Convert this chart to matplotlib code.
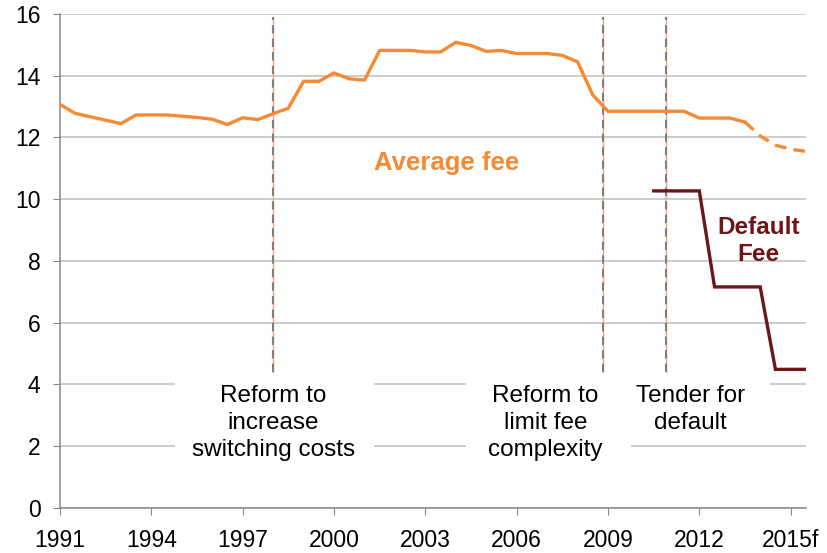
import numpy as np
import matplotlib.pyplot as plt
from matplotlib.patches import Rectangle

plt.rcParams['font.family'] = ['Liberation Sans', 'DejaVu Sans']

# average fee, half-yearly readings
avg_years = [1991.0, 1991.5, 1993.0, 1993.5, 1994.0, 1994.5, 1995.0, 1995.5, 1996.0,
             1996.5, 1997.0, 1997.5, 1998.0, 1998.5, 1999.0, 1999.5, 2000.0, 2000.5,
             2001.0, 2001.5, 2002.0, 2002.5, 2003.0, 2003.5, 2004.0, 2004.5, 2005.0,
             2005.5, 2006.0, 2006.5, 2007.0, 2007.5, 2008.0, 2008.5, 2009.0, 2009.5,
             2010.0, 2010.5, 2011.0, 2011.5, 2012.0, 2012.5, 2013.0, 2013.5]
avg_fee = [13.07, 12.78, 12.45, 12.73, 12.73, 12.73, 12.69, 12.65, 12.59,
           12.42, 12.64, 12.58, 12.77, 12.95, 13.82, 13.82, 14.09, 13.90,
           13.86, 14.82, 14.82, 14.82, 14.77, 14.77, 15.08, 14.98, 14.79,
           14.82, 14.72, 14.72, 14.72, 14.66, 14.45, 13.38, 12.85, 12.85,
           12.85, 12.85, 12.85, 12.85, 12.63, 12.63, 12.63, 12.50]
fc_years = [2013.5, 2014.0, 2014.5, 2015.0, 2015.5]
fc_fee = [12.50, 12.05, 11.75, 11.62, 11.55]

def_years = [2010.5, 2012.0, 2012.5, 2014.0, 2014.5, 2015.5]
def_fee = [10.27, 10.27, 7.16, 7.16, 4.49, 4.49]

events = [1998.0, 2008.83, 2010.9]
event_labels = ['Reform to\nincrease\nswitching costs',
                'Reform to\nlimit fee\ncomplexity',
                'Tender for\ndefault']

xticks = [1991, 1994, 1997, 2000, 2003, 2006, 2009, 2012, 2015]
xlabels = ['1991', '1994', '1997', '2000', '2003', '2006', '2009', '2012', '2015f']

orange = '#F58A32'
maroon = '#6E1518'
grey = '#878787'

fig = plt.figure(figsize=(8.28, 5.53), dpi=100)
ax = fig.add_axes([0.0725, 0.0814, 0.9015, 0.8933])

ax.set_xlim(1991, 2015.52)
ax.set_ylim(0, 16)
ax.set_yticks(np.arange(0, 17, 2))
ax.set_xticks(xticks)
ax.set_xticklabels(xlabels)
ax.yaxis.grid(True, color='#BFBFBF', lw=1.1)
ax.set_axisbelow(True)
for s in ['top', 'right']:
    ax.spines[s].set_visible(False)
for s in ['left', 'bottom']:
    ax.spines[s].set_color(grey)
    ax.spines[s].set_linewidth(1.1)
ax.tick_params(axis='both', colors=grey, labelcolor='black', labelsize=16.5, length=5)
ax.tick_params(axis='y', pad=9)
ax.tick_params(axis='x', pad=10)

# event markers
for x in events:
    ax.plot([x, x], [4.4, 15.9], color='#F4A07A', lw=1.0, zorder=2)
    ax.plot([x, x], [4.4, 15.9], color='#7F7F7F', lw=1.5, ls=(0, (4, 2.5)), zorder=2)

# white label boxes hiding the gridlines
boxes = [(1994.77, 2001.33, 1.1), (2004.35, 2009.76, 1.1), (2009.76, 2014.32, 2.25)]
for x0, x1, y0 in boxes:
    ax.add_patch(Rectangle((x0, y0), x1 - x0, 4.37 - y0, facecolor='white',
                           edgecolor='none', zorder=1.5))
ax.text(1998.0, 2.75, event_labels[0], ha='center', va='center', fontsize=17.5,
        linespacing=1.3, zorder=3)
ax.text(2006.95, 2.75, event_labels[1], ha='center', va='center', fontsize=17.5,
        linespacing=1.3, zorder=3)
ax.text(2011.7, 3.2, event_labels[2], ha='center', va='center', fontsize=17.5,
        linespacing=1.3, zorder=3)

ax.plot(avg_years, avg_fee, color=orange, lw=2.4, zorder=4, solid_joinstyle='miter')
ax.plot(fc_years, fc_fee, color=orange, lw=2.4, ls=(0, (3.5, 2.2)), zorder=4)
ax.plot(def_years, def_fee, color=maroon, lw=2.4, zorder=4, solid_joinstyle='miter')

ax.text(2003.7, 11.17, 'Average fee', color=orange, fontsize=18.5, fontweight='bold',
        ha='center', va='center')
ax.text(2013.94, 8.65, 'Default\nFee', color=maroon, fontsize=17.5, fontweight='bold',
        ha='center', va='center', linespacing=1.2)

fig.savefig('out.png', dpi=100)
